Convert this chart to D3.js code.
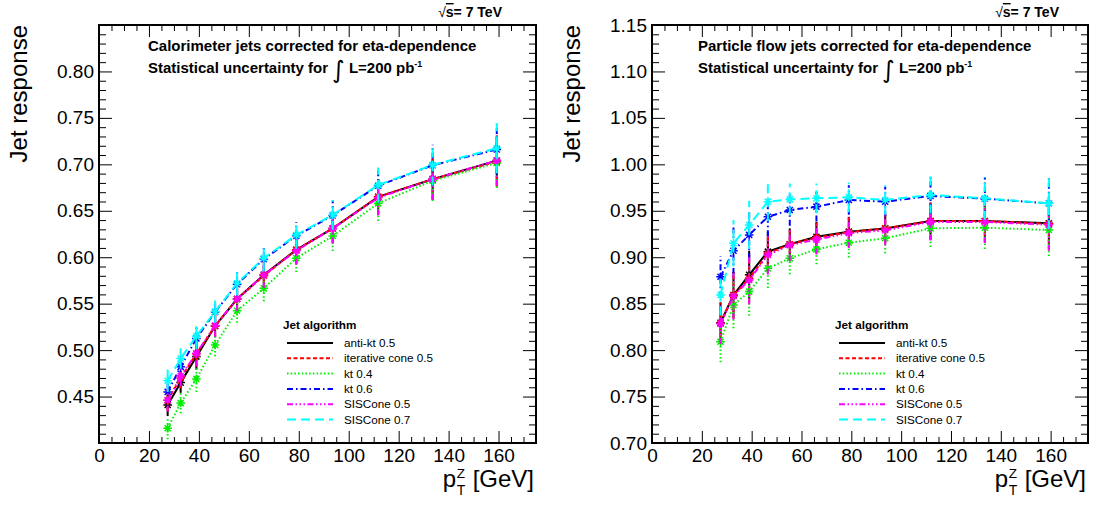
<!DOCTYPE html>
<html>
<head>
<meta charset="utf-8">
<script src="https://cdn.jsdelivr.net/npm/d3@7"></script>
<style>
  html, body { margin: 0; padding: 0; background: #fff; }
  svg { display: block; font-family: "Liberation Sans", Arial, Helvetica, sans-serif; }
</style>
</head>
<body>
<svg id="chart" width="1096" height="507"></svg>
<script>
// Z+jet balance: jet response vs pT of the Z boson, six jet algorithms
const ptBins = [27.5, 32.7, 39, 46.5, 55.3, 66, 79, 93.6, 111.8, 133.6, 159.3];

const algorithms = ["anti-kt 0.5", "iterative cone 0.5", "kt 0.4", "kt 0.6", "SISCone 0.5", "SISCone 0.7"];

// Calorimeter jets
const caloAntikt05 = [0.441, 0.465, 0.493, 0.526, 0.555, 0.581, 0.608, 0.631, 0.665, 0.684, 0.704];
const caloIcone05  = [0.446, 0.470, 0.496, 0.526, 0.555, 0.580, 0.608, 0.631, 0.665, 0.684, 0.703];
const caloKt04     = [0.416, 0.443, 0.469, 0.5055, 0.5424, 0.5665, 0.599, 0.6228, 0.658, 0.6824, 0.7015];
const caloKt06     = [0.455, 0.482, 0.5125, 0.541, 0.571, 0.598, 0.623, 0.645, 0.677, 0.699, 0.716];
const caloSis05    = [0.446, 0.472, 0.4965, 0.5265, 0.555, 0.581, 0.607, 0.631, 0.664, 0.684, 0.704];
const caloSis07    = [0.467, 0.491, 0.515, 0.5415, 0.572, 0.599, 0.624, 0.6455, 0.6777, 0.6993, 0.7173];
const caloErr      = [0.012, 0.011, 0.014, 0.012, 0.013, 0.014, 0.015, 0.016, 0.019, 0.022, 0.027];

// Particle flow jets
const pfAntikt05 = [0.8295, 0.8593, 0.881, 0.906, 0.914, 0.922, 0.9275, 0.931, 0.939, 0.939, 0.9365];
const pfIcone05  = [0.829, 0.859, 0.877, 0.904, 0.914, 0.921, 0.927, 0.931, 0.939, 0.939, 0.936];
const pfKt04     = [0.809, 0.8486, 0.863, 0.888, 0.8988, 0.9085, 0.9156, 0.9204, 0.9311, 0.9318, 0.9293];
const pfKt06     = [0.879, 0.907, 0.924, 0.9436, 0.9508, 0.9544, 0.9616, 0.9598, 0.966, 0.963, 0.958];
const pfSis05    = [0.8285, 0.858, 0.8755, 0.9024, 0.913, 0.919, 0.926, 0.929, 0.938, 0.938, 0.935];
const pfSis07    = [0.8593, 0.915, 0.9347, 0.9598, 0.9623, 0.9634, 0.9645, 0.9616, 0.967, 0.9634, 0.958];
const pfErr      = [0.022, 0.025, 0.026, 0.021, 0.017, 0.016, 0.016, 0.016, 0.020, 0.023, 0.028];

// Axis tick labels
const xTickLabels = [0, 20, 40, 60, 80, 100, 120, 140, 160];
const caloYTickLabels = [0.45, 0.50, 0.55, 0.60, 0.65, 0.70, 0.75, 0.80];
const pfYTickLabels = [0.70, 0.75, 0.80, 0.85, 0.90, 0.95, 1.00, 1.05, 1.10, 1.15];

// Line styles per algorithm (ROOT-like colours and dash patterns)
const styles = [
  { color: "#000000", dash: null },
  { color: "#ff0000", dash: "4,2.5" },
  { color: "#00ee00", dash: "1.5,2.2" },
  { color: "#0000ff", dash: "6,3,1.5,3" },
  { color: "#ff00ff", dash: "6,2.5,1.5,2.5,1.5,2.5,1.5,2.5" },
  { color: "#00ffff", dash: "9,5" }
];

const panels = [
  {
    x0: 99, x1: 536, y0: 25, y1: 443,
    yDomain: [0.40, 0.85], yLabels: caloYTickLabels,
    series: [caloAntikt05, caloIcone05, caloKt04, caloKt06, caloSis05, caloSis07],
    err: caloErr,
    line1: "Calorimeter jets corrected for eta-dependence",
    textX: 148, sqrtsEnd: 502, legendX: 283
  },
  {
    x0: 652, x1: 1088, y0: 25, y1: 443,
    yDomain: [0.70, 1.15], yLabels: pfYTickLabels,
    series: [pfAntikt05, pfIcone05, pfKt04, pfKt06, pfSis05, pfSis07],
    err: pfErr,
    line1: "Particle flow jets corrected for eta-dependence",
    textX: 698, sqrtsEnd: 1059, legendX: 835
  }
];

const svg = d3.select("#chart");
svg.append("rect").attr("width", 1096).attr("height", 507).attr("fill", "#fff");

const FONT = "'Liberation Sans', Arial, Helvetica, sans-serif";

function asterisk(r) {
  const d = r * Math.SQRT1_2;
  return `M${-r},0L${r},0M0,${-r}L0,${r}M${-d},${-d}L${d},${d}M${-d},${d}L${d},${-d}`;
}

panels.forEach((p, pi) => {
  const g = svg.append("g");
  const x = d3.scaleLinear().domain([0, 175]).range([p.x0, p.x1]);
  const y = d3.scaleLinear().domain(p.yDomain).range([p.y1, p.y0]);

  const xMinor = d3.range(0, 176, 5).filter(v => v % 20 !== 0);
  const yStep = 0.01;
  const yAll = d3.range(Math.round(p.yDomain[0] / yStep), Math.round(p.yDomain[1] / yStep) + 1).map(k => +(k * yStep).toFixed(2));
  const yMajor = yAll.filter(v => Math.round(v * 100) % 5 === 0);
  const yMinor = yAll.filter(v => Math.round(v * 100) % 5 !== 0);

  function styleAxis(sel) {
    sel.select(".domain").remove();
    sel.selectAll(".tick line").attr("stroke", "#000").attr("stroke-width", 1);
    sel.attr("font-family", FONT).attr("font-size", 19);
    sel.selectAll("text").attr("fill", "#000");
  }

  // bottom axis: labelled major ticks + minor ticks
  g.append("g").attr("transform", `translate(0,${p.y1})`)
    .call(d3.axisBottom(x).tickValues(xTickLabels).tickSize(-12).tickPadding(6).tickFormat(d3.format("d")))
    .call(styleAxis);
  g.append("g").attr("transform", `translate(0,${p.y1})`)
    .call(d3.axisBottom(x).tickValues(xMinor).tickSize(-6).tickFormat(""))
    .call(styleAxis);
  // top axis mirror ticks
  g.append("g").attr("transform", `translate(0,${p.y0})`)
    .call(d3.axisTop(x).tickValues(xTickLabels).tickSize(-12).tickFormat(""))
    .call(styleAxis);
  g.append("g").attr("transform", `translate(0,${p.y0})`)
    .call(d3.axisTop(x).tickValues(xMinor).tickSize(-6).tickFormat(""))
    .call(styleAxis);

  // left axis
  g.append("g").attr("transform", `translate(${p.x0},0)`)
    .call(d3.axisLeft(y).tickValues(yMajor).tickSize(-13).tickPadding(5)
      .tickFormat(v => p.yLabels.some(l => Math.abs(l - v) < 1e-6) ? d3.format(".2f")(v) : ""))
    .call(styleAxis);
  g.append("g").attr("transform", `translate(${p.x0},0)`)
    .call(d3.axisLeft(y).tickValues(yMinor).tickSize(-7).tickFormat(""))
    .call(styleAxis);
  // right axis mirror ticks
  g.append("g").attr("transform", `translate(${p.x1},0)`)
    .call(d3.axisRight(y).tickValues(yMajor).tickSize(-13).tickFormat(""))
    .call(styleAxis);
  g.append("g").attr("transform", `translate(${p.x1},0)`)
    .call(d3.axisRight(y).tickValues(yMinor).tickSize(-7).tickFormat(""))
    .call(styleAxis);

  // frame
  g.append("rect")
    .attr("x", p.x0).attr("y", p.y0)
    .attr("width", p.x1 - p.x0).attr("height", p.y1 - p.y0)
    .attr("fill", "none").attr("stroke", "#000").attr("stroke-width", 2);

  // clip for data
  const clipId = "clip" + pi;
  svg.append("clipPath").attr("id", clipId)
    .append("rect").attr("x", p.x0).attr("y", p.y0)
    .attr("width", p.x1 - p.x0).attr("height", p.y1 - p.y0);

  const dataG = g.append("g").attr("clip-path", `url(#${clipId})`);
  const line = d3.line().x(d => x(d.pt)).y(d => y(d.v));

  p.series.forEach((vals, si) => {
    const st = styles[si];
    const pts = vals.map((v, i) => ({ pt: ptBins[i], v, e: p.err[i] }));
    const sg = dataG.append("g");
    sg.append("path").datum(pts)
      .attr("d", line)
      .attr("fill", "none").attr("stroke", st.color).attr("stroke-width", 2)
      .attr("stroke-dasharray", st.dash);
    sg.selectAll("line.err").data(pts).join("line")
      .attr("class", "err")
      .attr("x1", d => x(d.pt)).attr("x2", d => x(d.pt))
      .attr("y1", d => y(d.v - d.e)).attr("y2", d => y(d.v + d.e))
      .attr("stroke", st.color).attr("stroke-width", 2)
      .attr("stroke-dasharray", st.dash);
    sg.selectAll("path.mk").data(pts).join("path")
      .attr("class", "mk")
      .attr("transform", d => `translate(${x(d.pt)},${y(d.v)})`)
      .attr("d", asterisk(4.3))
      .attr("fill", "none").attr("stroke", st.color).attr("stroke-width", 1.5);
  });

  // y title
  g.append("text")
    .attr("transform", `translate(${p.x0 - 72},${p.y0}) rotate(-90)`)
    .attr("text-anchor", "end")
    .attr("font-family", FONT).attr("font-size", 24)
    .text("Jet response");

  // x title: p_T^Z [GeV]
  const xb = p.y1 + 44;
  const xEnd = p.x1 - 2;
  const gev = g.append("text").attr("x", xEnd).attr("y", xb)
    .attr("text-anchor", "end").attr("font-family", FONT).attr("font-size", 24)
    .text("[GeV]");
  const gevStart = xEnd - gev.node().getComputedTextLength();
  const scrX = gevStart - 7 - 9;
  g.append("text").attr("x", scrX).attr("y", xb - 9)
    .attr("font-family", FONT).attr("font-size", 13.5).text("Z");
  g.append("text").attr("x", scrX).attr("y", xb + 8)
    .attr("font-family", FONT).attr("font-size", 14).text("T");
  g.append("text").attr("x", scrX - 0.5).attr("y", xb)
    .attr("text-anchor", "end").attr("font-family", FONT).attr("font-size", 24)
    .text("p");

  // sqrt(s) label
  const sq = g.append("text").attr("x", p.sqrtsEnd).attr("y", 17)
    .attr("text-anchor", "end").attr("font-family", FONT).attr("font-size", 14)
    .attr("font-weight", "bold");
  sq.append("tspan").attr("font-weight", "normal").text("√");
  sq.append("tspan").attr("text-decoration", "overline").text("s");
  sq.append("tspan").text("= 7 TeV");

  // annotation
  g.append("text").attr("x", p.textX).attr("y", 51)
    .attr("font-family", FONT).attr("font-size", 15).attr("font-weight", "bold")
    .text(p.line1);
  const l2 = g.append("text").attr("x", p.textX).attr("y", 73)
    .attr("font-family", FONT).attr("font-size", 15).attr("font-weight", "bold");
  l2.append("tspan").text("Statistical uncertainty for ");
  l2.append("tspan").attr("font-family", "'DejaVu Sans', sans-serif").attr("font-weight", "normal")
    .attr("font-size", 24).attr("dy", 5).text("∫");
  l2.append("tspan").attr("dy", -5).text(" L=200 pb");
  l2.append("tspan").attr("font-size", 9).attr("dy", -6).text("-1");

  // legend
  const lg = g.append("g");
  lg.append("text").attr("x", p.legendX).attr("y", 329)
    .attr("font-family", FONT).attr("font-size", 11.7).attr("font-weight", "bold")
    .text("Jet algorithm");
  algorithms.forEach((name, i) => {
    const yy = 343 + i * 15.3;
    lg.append("line")
      .attr("x1", p.legendX + 4).attr("x2", p.legendX + 50)
      .attr("y1", yy).attr("y2", yy)
      .attr("stroke", styles[i].color).attr("stroke-width", 2)
      .attr("stroke-dasharray", styles[i].dash);
    lg.append("text").attr("x", p.legendX + 61).attr("y", yy + 4)
      .attr("font-family", FONT).attr("font-size", 11.7)
      .text(name);
  });
});
</script>
</body>
</html>
